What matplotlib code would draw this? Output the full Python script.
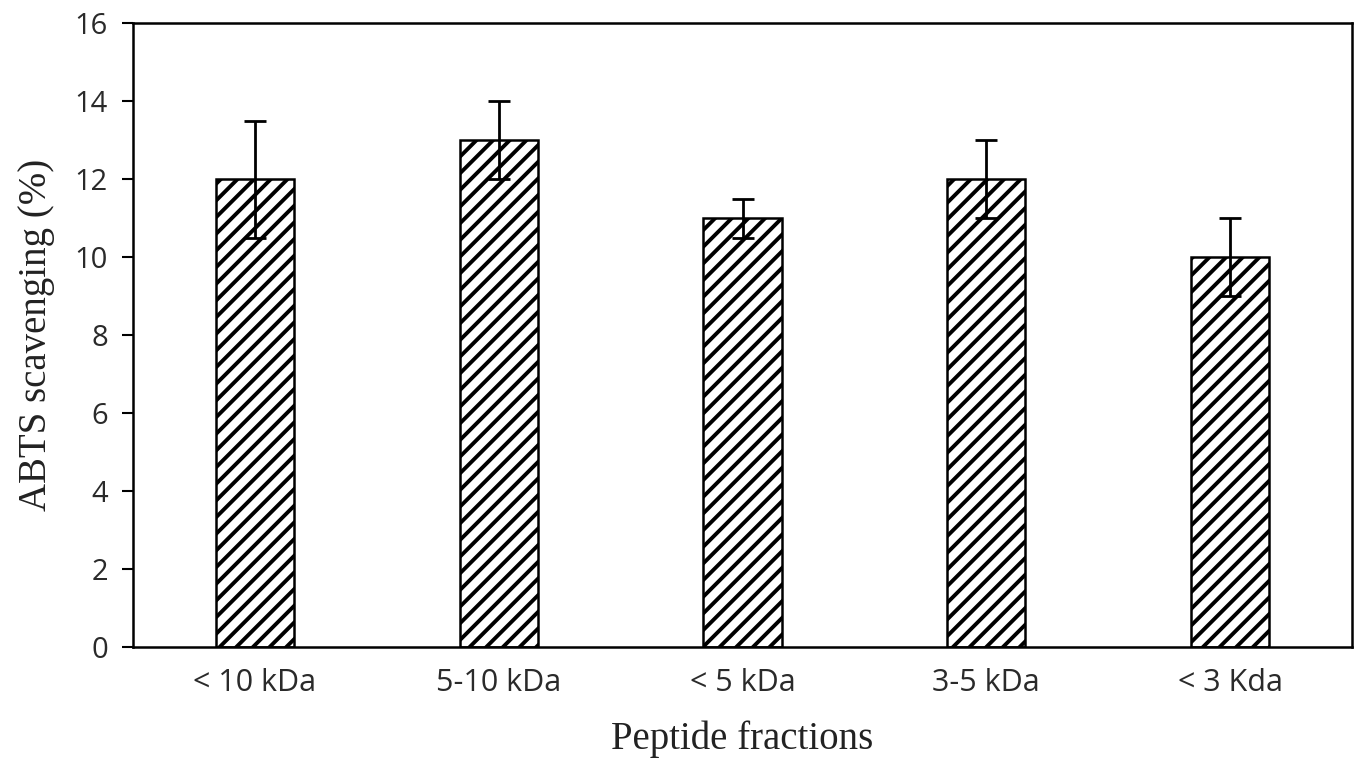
import matplotlib
matplotlib.use("Agg")
import matplotlib.pyplot as plt
import numpy as np

fractions = ["< 10 kDa", "5-10 kDa", "< 5 kDa", "3-5 kDa", "< 3 Kda"]
abts = [12, 13, 11, 12, 10]
abts_err = [1.5, 1.0, 0.5, 1.0, 1.0]

fig = plt.figure(figsize=(13.61, 7.62), dpi=100)
ax = fig.add_axes([133 / 1361, 1 - 647 / 762, 1219 / 1361, 624 / 762])

x = np.arange(len(fractions))
bars = ax.bar(x, abts, width=0.32, color="white", edgecolor="black",
              linewidth=1.8, hatch="//", zorder=2)
for b in bars:
    b.set_hatch_linewidth(2.8)
ax.errorbar(x, abts, yerr=abts_err, fmt="none", ecolor="black", elinewidth=2,
            capsize=8, capthick=2, zorder=3)

ax.set_xlim(-0.5, len(fractions) - 0.5)
ax.set_ylim(0, 16)
ax.set_yticks(np.arange(0, 17, 2))
ax.set_xticks(x)
ax.set_xticklabels(fractions)
ax.tick_params(axis="y", direction="out", length=8, width=1.5, pad=10,
               labelsize=21, labelcolor="#2a2a2a")
ax.tick_params(axis="x", length=0, pad=15, labelsize=22, labelcolor="#2a2a2a")
for lab in ax.get_xticklabels() + ax.get_yticklabels():
    lab.set_fontfamily("Open Sans")
for sp in ax.spines.values():
    sp.set_linewidth(1.8)

ax.set_ylabel("ABTS scavenging (%)", family="Liberation Serif", fontsize=28,
              color="#222222", labelpad=14)
ax.set_xlabel("Peptide fractions", family="Liberation Serif", fontsize=28,
              color="#222222", labelpad=16)

fig.savefig("out.png", dpi=100)
